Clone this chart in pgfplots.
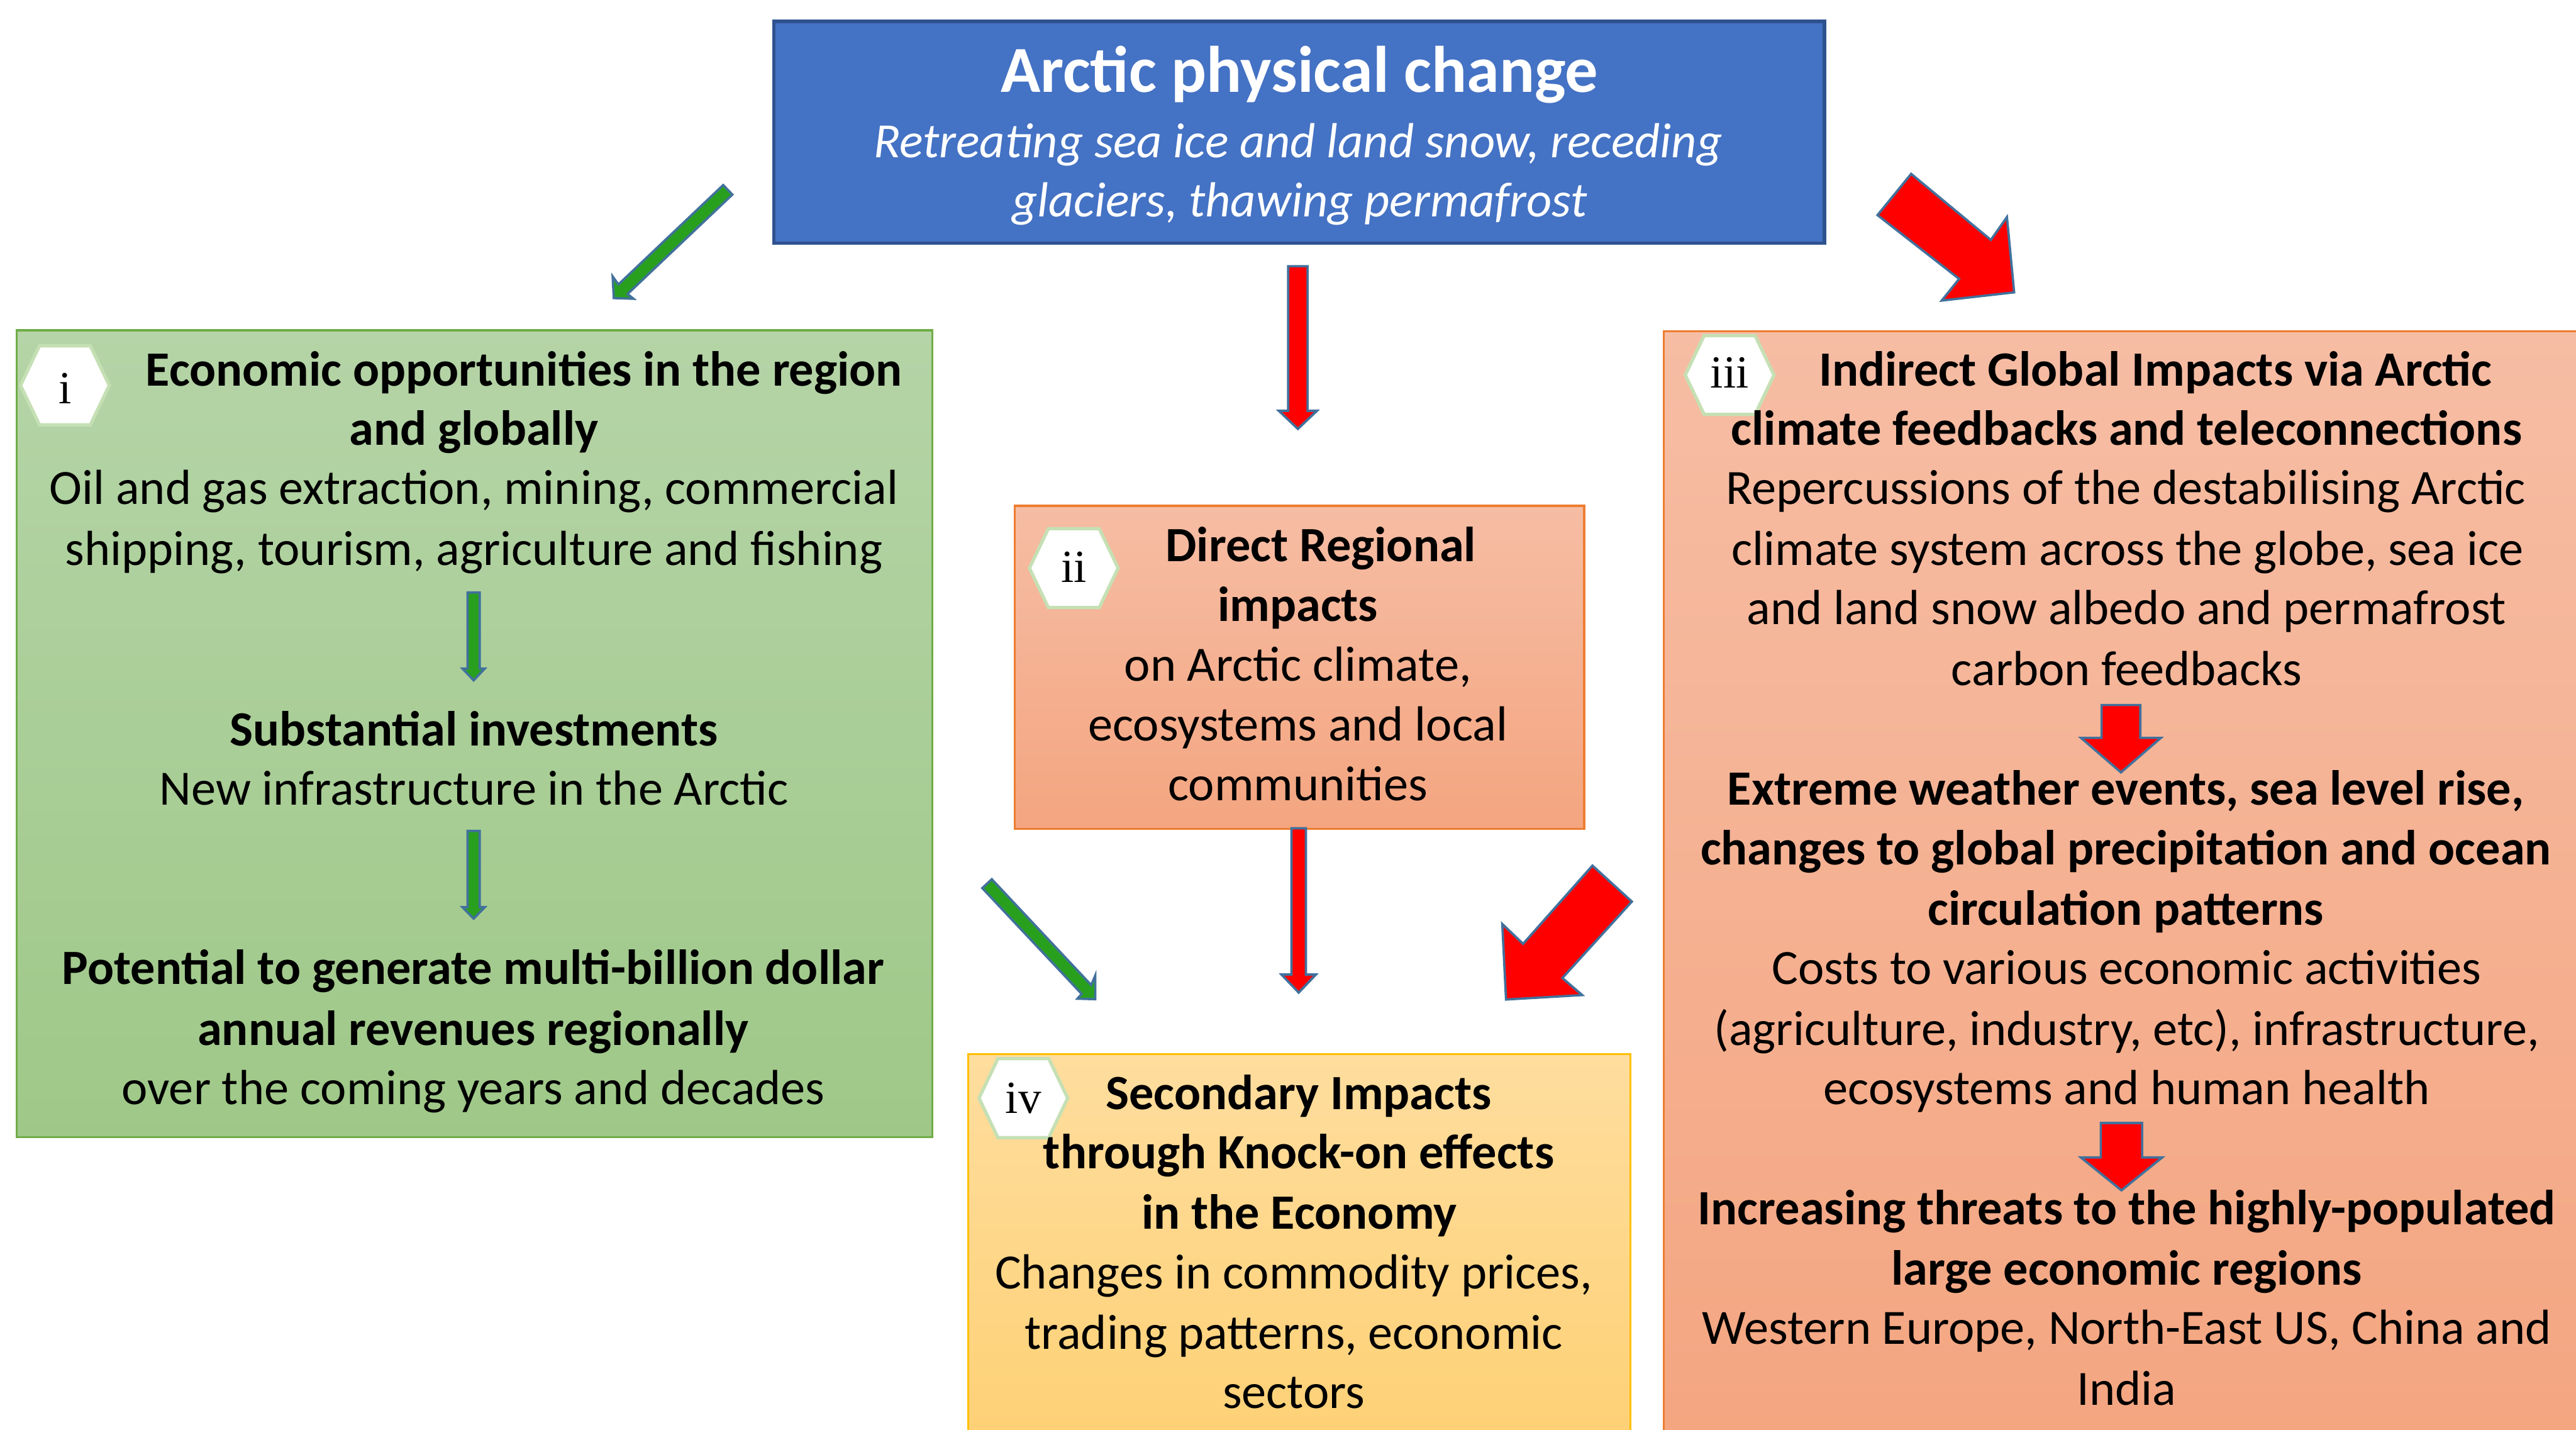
\documentclass[border=0pt]{standalone}
\usepackage{pgfplots}
\pgfplotsset{compat=1.18}
\usepackage{fontspec}
\setmainfont{Carlito}
\newfontfamily\numfont{Liberation Serif}
\definecolor{bluefill}{HTML}{4472C4}
\definecolor{blueborder}{HTML}{2F528F}
\definecolor{greentop}{HTML}{B5D4A7}
\definecolor{greenbot}{HTML}{9FC888}
\definecolor{greenborder}{HTML}{70AD47}
\definecolor{salmtop}{HTML}{F6BDA4}
\definecolor{salmbot}{HTML}{F4A580}
\definecolor{orangeborder}{HTML}{ED7D31}
\definecolor{yeltop}{HTML}{FEDD9E}
\definecolor{yelbot}{HTML}{FED073}
\definecolor{yelborder}{HTML}{FFC000}
\definecolor{arrowborder}{HTML}{41719C}
\definecolor{arrowgreen}{RGB}{40,160,30}
\definecolor{hexborder}{HTML}{C5E0B4}
\newcommand{\bodyf}{\fontsize{15}{18}\selectfont}
\newcommand{\hexa}[4]{%
  \draw[fill=white, draw=hexborder, line width=1pt]
    (axis cs:#1-27,#2) -- (axis cs:#1-15.5,#2-24) -- (axis cs:#1+15.5,#2-24)
    -- (axis cs:#1+27,#2) -- (axis cs:#1+15.5,#2+24) -- (axis cs:#1-15.5,#2+24) -- cycle;
  \node[anchor=base, inner sep=0pt, font=\numfont\fontsize{14}{16}\selectfont] at (axis cs:#1,#2+#4) {#3};}
\newcommand{\tl}[4]{\node[anchor=base, inner sep=0pt, font=\bodyf#3] at (axis cs:#1,#2) {#4};}
\begin{document}
\begin{tikzpicture}
\begin{axis}[scale only axis, width=784pt, height=435pt,
  xmin=0, xmax=1568, ymin=0, ymax=870, y dir=reverse,
  hide axis, clip=false]
\coordinate (SW) at (axis cs:0,870);
\coordinate (NE) at (axis cs:1568,0);
% boxes
\draw[fill=bluefill, draw=blueborder, line width=1pt] (axis cs:471,13) rectangle (axis cs:1110.5,148);
\draw[top color=greentop, bottom color=greenbot, draw=greenborder, line width=0.6pt] (axis cs:10,201) rectangle (axis cs:567.5,692);
\draw[top color=salmtop, bottom color=salmbot, draw=orangeborder, line width=0.6pt] (axis cs:617.5,307.8) rectangle (axis cs:964.3,504.2);
\draw[top color=salmtop, bottom color=salmbot, draw=orangeborder, line width=0.6pt] (axis cs:1012.6,201.4) rectangle (axis cs:1590,890);
\draw[top color=yeltop, bottom color=yelbot, draw=yelborder, line width=0.6pt] (axis cs:589.2,641.3) rectangle (axis cs:992.5,890);
% arrows
\addplot[fill=arrowgreen, draw=arrowborder, line width=0.7pt, mark=none] coordinates {(440.2,112.6) (376.4,173.1) (372.9,168.2) (373.6,181.4) (385.6,181.8) (382,178.9) (445.8,118.4)} -- cycle;
\addplot[fill=arrowgreen, draw=arrowborder, line width=0.7pt, mark=none] coordinates {(597.9,540.4) (658.4,604.8) (655.8,607.7) (666.7,608) (666.7,593.5) (664.2,599.4) (603.7,535.0)} -- cycle;
\addplot[fill=arrowgreen, draw=arrowborder, line width=0.7pt, mark=none] coordinates {(284.6,360.5) (292,360.5) (292,406.8) (295.1,406.8) (288.3,414) (281.5,406.8) (284.6,406.8)} -- cycle;
\addplot[fill=arrowgreen, draw=arrowborder, line width=0.7pt, mark=none] coordinates {(284.6,505.6) (292,505.6) (292,552) (295.1,552) (288.3,559) (281.5,552) (284.6,552)} -- cycle;
\addplot[fill=red, draw=arrowborder, line width=0.7pt, mark=none] coordinates {(784.1,162) (795.9,162) (795.9,250) (801.6,250) (790,261) (778.4,250) (784.1,250)} -- cycle;
\addplot[fill=red, draw=arrowborder, line width=0.7pt, mark=none] coordinates {(786.1,504) (794.9,504) (794.9,593) (801,593) (790.5,604) (780,593) (786.1,593)} -- cycle;
\addplot[fill=red, draw=arrowborder, line width=0.7pt, mark=none] coordinates {(1163.3,105.8) (1211.8,146) (1221.6,132.1) (1226,177.9) (1181.9,182.9) (1192.5,169.7) (1142.8,130.9)} -- cycle;
\addplot[fill=red, draw=arrowborder, line width=0.7pt, mark=none] coordinates {(969.3,526.7) (927.1,574.3) (914.4,562.2) (916.7,608.2) (963.1,605.5) (951,595.1) (993.3,548.6)} -- cycle;
\addplot[fill=red, draw=arrowborder, line width=0.7pt, mark=none] coordinates {(1279.2,429) (1302.8,429) (1302.8,449) (1315.3,449) (1291,470) (1266.7,449) (1279.2,449)} -- cycle;
\addplot[fill=red, draw=arrowborder, line width=0.7pt, mark=none] coordinates {(1278.7,683.3) (1303.9,683.3) (1303.9,704.3) (1316.1,704.3) (1291.3,724.3) (1266.6,704.3) (1278.7,704.3)} -- cycle;
% hexagons
\hexa{39.5}{234.5}{i}{11}
\hexa{653.6}{345.7}{ii}{8.5}
\hexa{1052.8}{228.2}{iii}{8}
\hexa{622.9}{668.2}{iv}{9}
% top box text
\node[anchor=base, inner sep=0pt, text=white, font=\fontsize{20}{24}\selectfont\bfseries] at (axis cs:791,56) {Arctic physical change};
\tl{790}{96}{\itshape\color{white}}{Retreating sea ice and land snow, receding}
\tl{791}{132}{\itshape\color{white}}{glaciers, thawing permafrost}
% green box
\tl{319}{235}{\bfseries}{Economic opportunities in the region}
\tl{288.5}{271}{\bfseries}{and globally}
\tl{288.5}{307}{}{Oil and gas extraction, mining, commercial}
\tl{288.5}{344}{}{shipping, tourism, agriculture and fishing}
\tl{288.5}{454}{\bfseries}{Substantial investments}
\tl{288.5}{490}{}{New infrastructure in the Arctic}
\tl{288}{599}{\bfseries}{Potential to generate multi-billion dollar}
\tl{288}{636}{\bfseries}{annual revenues regionally}
\tl{288}{672}{}{over the coming years and decades}
% box ii
\tl{804}{341.6}{\bfseries}{Direct Regional}
\tl{790}{378}{\bfseries}{impacts}
\tl{790}{414.4}{}{on Arctic climate,}
\tl{790}{450.6}{}{ecosystems and local}
\tl{790}{487}{}{communities}
% box iii
\tl{1312}{235}{\bfseries}{Indirect Global Impacts via Arctic}
\tl{1294.5}{271}{\bfseries}{climate feedbacks and teleconnections}
\tl{1294}{307}{}{Repercussions of the destabilising Arctic}
\tl{1295}{344}{}{climate system across the globe, sea ice}
\tl{1294.5}{380}{}{and land snow albedo and permafrost}
\tl{1294.5}{417}{}{carbon feedbacks}
\tl{1294}{490}{\bfseries}{Extreme weather events, sea level rise,}
\tl{1294}{526}{\bfseries}{changes to global precipitation and ocean}
\tl{1294}{563}{\bfseries}{circulation patterns}
\tl{1294.5}{599}{}{Costs to various economic activities}
\tl{1294.5}{636}{}{(agriculture, industry, etc), infrastructure,}
\tl{1294.5}{672}{}{ecosystems and human health}
\tl{1294.5}{745}{\bfseries}{Increasing threats to the highly-populated}
\tl{1294.5}{782}{\bfseries}{large economic regions}
\tl{1294.5}{818}{}{Western Europe, North-East US, China and}
\tl{1294.5}{855}{}{India}
% box iv
\tl{790.5}{675}{\bfseries}{Secondary Impacts}
\tl{790.5}{711}{\bfseries}{through Knock-on effects}
\tl{790.8}{748}{\bfseries}{in the Economy}
\tl{787.5}{784}{}{Changes in commodity prices,}
\tl{787.5}{821}{}{trading patterns, economic}
\tl{787.5}{857}{}{sectors}
\end{axis}
\pgfresetboundingbox
\path (SW) rectangle (NE);
\end{tikzpicture}
\end{document}
